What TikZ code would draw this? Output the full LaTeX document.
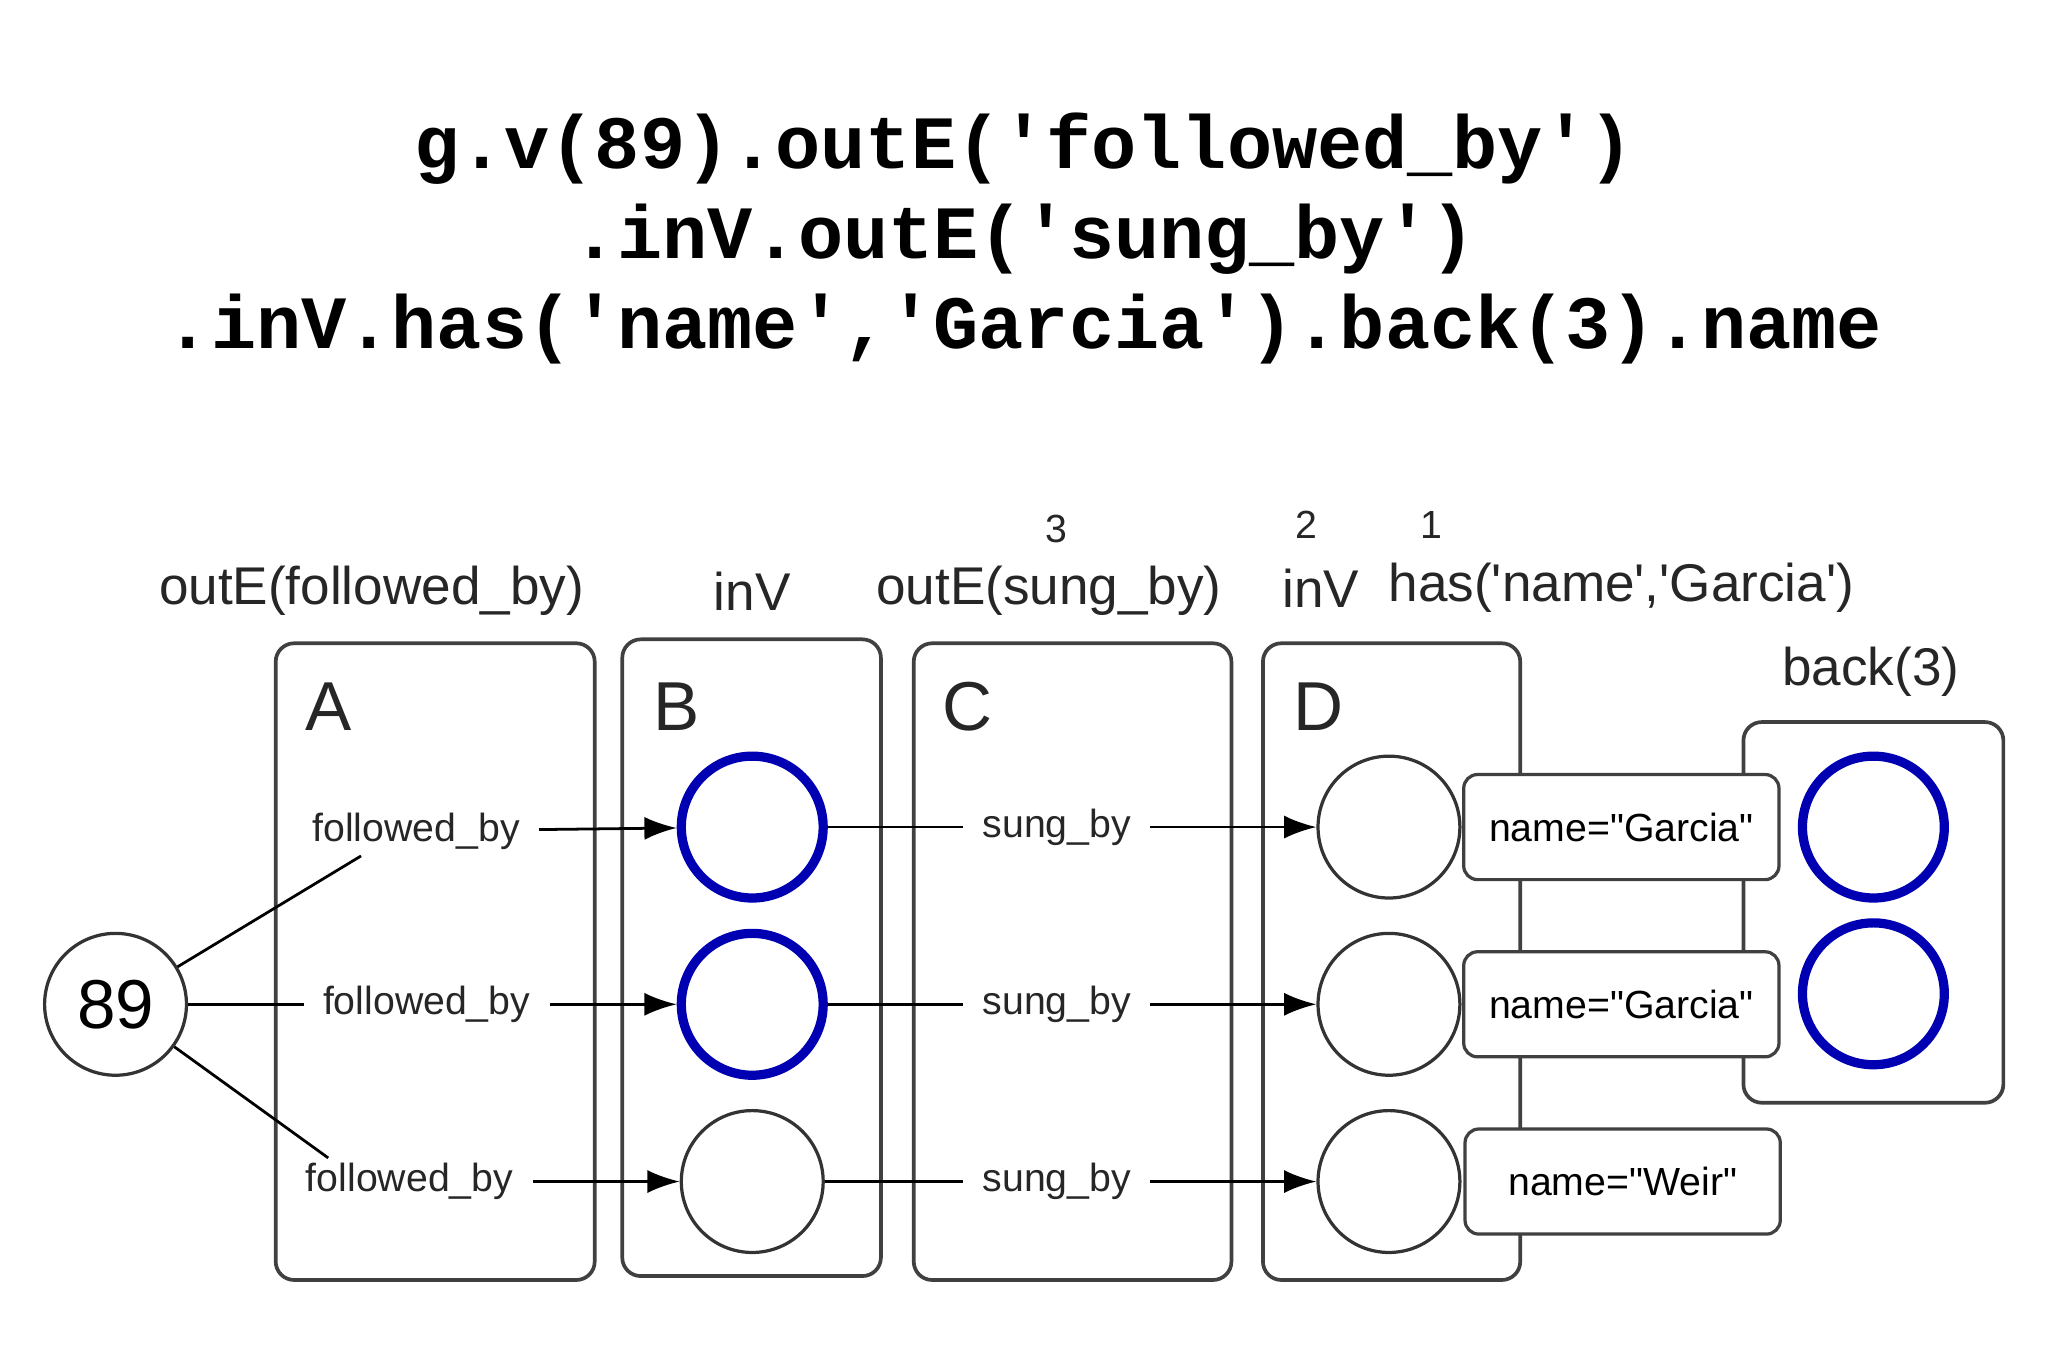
\documentclass[tikz,border=0pt]{standalone}
\usepackage{fontspec}
\setmainfont{Liberation Sans}[Ligatures=ResetAll]
\newfontfamily\codefont{Liberation Mono}[Ligatures=NoCommon]
\usetikzlibrary{arrows.meta}
\newcommand{\sq}{\char"27\relax}
\newcommand{\msq}{\textquotesingle}
\newcommand{\dq}{\textquotedbl}
\begin{document}
\begin{tikzpicture}[x=0.01cm,y=-0.01cm,
  panel/.style={draw=black!75,rounded corners=4pt,line width=0.8pt},
  vtx/.style={circle,draw=black!80,line width=0.7pt,minimum size=1.08cm,inner sep=0pt},
  bvtx/.style={circle,draw=blue!70!black,line width=2pt,minimum size=1.08cm,inner sep=0pt},
  lbl/.style={font=\fontsize{8.5}{10}\selectfont,inner sep=4pt,text=black!85},
  hdr/.style={font=\fontsize{11.5}{13}\selectfont,text=black!85},
  big/.style={font=\fontsize{15}{17}\selectfont,text=black!85},
  namebox/.style={draw=black!75,fill=white,rounded corners=3pt,line width=0.7pt,minimum width=2.4cm,minimum height=0.8cm,font=\fontsize{8.5}{10}\selectfont},
  arr/.style={-{Latex[length=7pt,width=5pt]},line width=0.6pt},
  ln/.style={line width=0.6pt}]
\useasboundingbox (0,0) rectangle (1560,1040);
\node[font=\codefont\bfseries\fontsize{16.3}{19.5}\selectfont,align=center] (title) at (780,182)
 {g.v(89).outE(\sq followed\_by\sq)\\.inV.outE(\sq sung\_by\sq)\\.inV.has(\sq name\sq,\sq Garcia\sq).back(3).name};
% panels
\draw[panel] (210,490) rectangle (453,975);
\draw[panel] (474,487) rectangle (671,972);
\draw[panel] (696,490) rectangle (938,975);
\draw[panel] (962,490) rectangle (1158,975);
\draw[panel] (1328,550) rectangle (1526,840);
\node[big] (lA) at (250,538) {A};
\node[big] (lB) at (515,538) {B};
\node[big] (lC) at (737,538) {C};
\node[big] (lD) at (1004,538) {D};
% headers
\node[hdr] (h1) at (283,450) {outE(followed\_by)};
\node[hdr] (h2) at (573,450) {inV};
\node[hdr] (h3) at (799,450) {outE(sung\_by)};
\node[hdr] (h4) at (1006,448) {inV};
\node[hdr] (h5) at (1235,448) {has(\msq name\msq,\msq Garcia\msq)};
\node[lbl] (n3) at (805,403) {3};
\node[lbl] (n2) at (995,400) {2};
\node[lbl] (n1) at (1090,400) {1};
\node[hdr] (h6) at (1425,512) {back(3)};
% vertices
\node[vtx,font=\fontsize{15}{17}\selectfont] (v89) at (88,765) {89};
\node[bvtx] (b1) at (573,630) {};
\node[bvtx] (b2) at (573,765) {};
\node[vtx] (b3) at (573,900) {};
\node[vtx] (d1) at (1058,630) {};
\node[vtx] (d2) at (1058,765) {};
\node[vtx] (d3) at (1058,900) {};
\node[bvtx] (r1) at (1427,630) {};
\node[bvtx] (r2) at (1427,757) {};
% name boxes
\node[namebox] (m1) at (1235,630) {name=\dq Garcia\dq};
\node[namebox] (m2) at (1235,765) {name=\dq Garcia\dq};
\node[namebox] (m3) at (1236,900) {name=\dq Weir\dq};
% edge labels
\node[lbl] (f1) at (317,633) {followed\_by};
\node[lbl] (f2) at (325,765) {followed\_by};
\node[lbl] (f3) at (312,900) {followed\_by};
\node[lbl] (s1) at (805,630) {sung\_by};
\node[lbl] (s2) at (805,765) {sung\_by};
\node[lbl] (s3) at (805,900) {sung\_by};
\coordinate (c1) at (275,652);
\coordinate (c3) at (250,882);
\draw[ln] (v89) -- (c1);
\draw[ln] (v89) -- (f2);
\draw[ln] (v89) -- (c3);
\draw[arr] (f1) -- (b1);
\draw[arr] (f2) -- (b2);
\draw[arr] (f3) -- (b3);
\draw[ln] (b1) -- (s1); \draw[arr] (s1) -- (d1);
\draw[ln] (b2) -- (s2); \draw[arr] (s2) -- (d2);
\draw[ln] (b3) -- (s3); \draw[arr] (s3) -- (d3);
\end{tikzpicture}
\end{document}
